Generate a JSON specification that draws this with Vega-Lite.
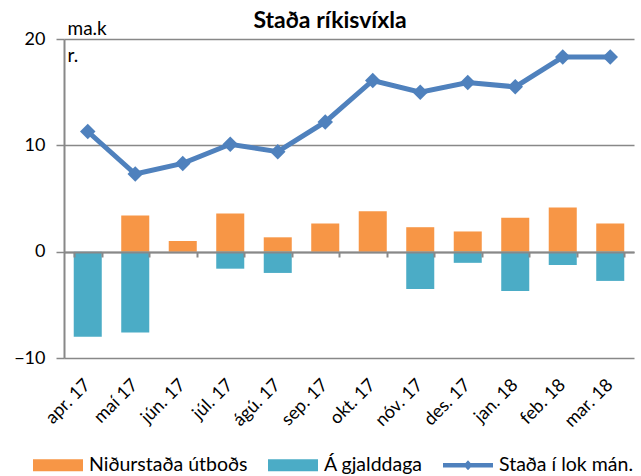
{
  "$schema": "https://vega.github.io/schema/vega-lite/v6.json",
  "width": 570,
  "height": 319,
  "autosize": {"type": "none"},
  "padding": {"left": 64, "top": 39, "right": 7, "bottom": 118},
  "background": "white",
  "config": {"font": "Lato", "view": {"stroke": null}},
  "title": {"text": "Staða ríkisvíxla", "fontSize": 23, "fontWeight": "bold", "font": "Lato", "color": "black", "anchor": "middle", "dx": -19, "dy": 24, "offset": 10},
  "data": {"values": [
    {"month": "apr. 17", "series": "Niðurstaða útboðs", "value": 0},
    {"month": "maí 17", "series": "Niðurstaða útboðs", "value": 3.4},
    {"month": "jún. 17", "series": "Niðurstaða útboðs", "value": 1.0},
    {"month": "júl. 17", "series": "Niðurstaða útboðs", "value": 3.6},
    {"month": "ágú. 17", "series": "Niðurstaða útboðs", "value": 1.35},
    {"month": "sep. 17", "series": "Niðurstaða útboðs", "value": 2.65},
    {"month": "okt. 17", "series": "Niðurstaða útboðs", "value": 3.8},
    {"month": "nóv. 17", "series": "Niðurstaða útboðs", "value": 2.3},
    {"month": "des. 17", "series": "Niðurstaða útboðs", "value": 1.9},
    {"month": "jan. 18", "series": "Niðurstaða útboðs", "value": 3.2},
    {"month": "feb. 18", "series": "Niðurstaða útboðs", "value": 4.15},
    {"month": "mar. 18", "series": "Niðurstaða útboðs", "value": 2.65},
    {"month": "apr. 17", "series": "Á gjalddaga", "value": -8.0},
    {"month": "maí 17", "series": "Á gjalddaga", "value": -7.6},
    {"month": "jún. 17", "series": "Á gjalddaga", "value": 0},
    {"month": "júl. 17", "series": "Á gjalddaga", "value": -1.6},
    {"month": "ágú. 17", "series": "Á gjalddaga", "value": -2.0},
    {"month": "sep. 17", "series": "Á gjalddaga", "value": 0},
    {"month": "okt. 17", "series": "Á gjalddaga", "value": 0},
    {"month": "nóv. 17", "series": "Á gjalddaga", "value": -3.5},
    {"month": "des. 17", "series": "Á gjalddaga", "value": -1.05},
    {"month": "jan. 18", "series": "Á gjalddaga", "value": -3.7},
    {"month": "feb. 18", "series": "Á gjalddaga", "value": -1.25},
    {"month": "mar. 18", "series": "Á gjalddaga", "value": -2.75},
    {"month": "apr. 17", "series": "Staða í lok mán.", "value": 11.3},
    {"month": "maí 17", "series": "Staða í lok mán.", "value": 7.3},
    {"month": "jún. 17", "series": "Staða í lok mán.", "value": 8.3},
    {"month": "júl. 17", "series": "Staða í lok mán.", "value": 10.1},
    {"month": "ágú. 17", "series": "Staða í lok mán.", "value": 9.4},
    {"month": "sep. 17", "series": "Staða í lok mán.", "value": 12.2},
    {"month": "okt. 17", "series": "Staða í lok mán.", "value": 16.1},
    {"month": "nóv. 17", "series": "Staða í lok mán.", "value": 15.0},
    {"month": "des. 17", "series": "Staða í lok mán.", "value": 15.9},
    {"month": "jan. 18", "series": "Staða í lok mán.", "value": 15.5},
    {"month": "feb. 18", "series": "Staða í lok mán.", "value": 18.3},
    {"month": "mar. 18", "series": "Staða í lok mán.", "value": 18.3}
  ]},
  "encoding": {
    "y": {
      "field": "value", "type": "quantitative",
      "scale": {"domain": [-10, 20], "nice": false, "zero": false},
      "axis": {
        "values": [-10, 0, 10, 20], "grid": true, "gridColor": "#888888", "gridWidth": 1.5,
        "domainColor": "#888888", "domainWidth": 2, "tickColor": "#888888", "tickSize": 8, "tickWidth": 1.5,
        "labelFontSize": 18, "labelColor": "black", "labelPadding": 11, "labelFont": "Lato",
        "title": ["ma.k", "r."], "titleAngle": 0, "titleAlign": "left", "titleBaseline": "top",
        "titleX": 3, "titleY": -20, "titleFontSize": 19, "titleFontWeight": "normal", "titleColor": "black", "titleLineHeight": 27, "titleFont": "Lato"
      }
    },
    "color": {
      "field": "series", "type": "nominal",
      "scale": {"domain": ["Niðurstaða útboðs", "Á gjalddaga", "Staða í lok mán."], "range": ["#F79646", "#4BACC6", "#4F81BD"]},
      "legend": {
        "title": null, "orient": "none", "legendX": -31, "legendY": 401, "direction": "horizontal",
        "labelFontSize": 19.5, "labelColor": "black", "labelFont": "Lato", "symbolSize": 2500, "columnPadding": 20, "labelOffset": 6, "symbolOpacity": 1,
        "encode": {"symbols": {"update": {
          "shape": {"signal": "datum.value === 'Staða í lok mán.' ? 'M-1,-0.09H1V0.09H-1Z M0,-0.2L0.18,0L0,0.2L-0.18,0Z' : 'M-1,-0.24H1V0.24H-1Z'"},
          "fill": {"signal": "scale('color', datum.value)"},
          "stroke": {"value": "transparent"},
          "strokeWidth": {"value": 0},
          "opacity": {"value": 1}
        }}}
      }
    }
  },
  "layer": [
    {
      "transform": [{"filter": "datum.series !== 'Staða í lok mán.'"}],
      "mark": {"type": "bar"},
      "encoding": {
        "x": {"field": "month", "type": "ordinal", "sort": null,
          "scale": {"paddingInner": 0.41, "paddingOuter": 0.205},
          "axis": {"orient": "bottom", "title": null, "labelAngle": -45, "labelFontSize": 18, "labelColor": "black", "labelFont": "Lato",
            "ticks": false, "domain": false, "grid": false, "labelPadding": 24, "labelOffset": 0, "labelAlign": "right", "labelBaseline": "middle"}},
        "y": {"field": "value", "type": "quantitative", "stack": null}
      }
    },
    {
      "transform": [{"filter": "datum.series === 'Staða í lok mán.'"}],
      "mark": {"type": "line", "strokeWidth": 5, "point": {"shape": "diamond", "size": 240, "filled": true}},
      "encoding": {
        "x": {"field": "month", "type": "ordinal", "sort": null,
          "axis": {"orient": "bottom", "offset": -106, "labels": false, "title": null, "ticks": true, "tickBand": "extent",
            "tickSize": 5, "tickColor": "#888888", "tickWidth": 2, "domainColor": "#888888", "domainWidth": 2, "grid": false, "zindex": 1}}
      }
    }
  ],
  "resolve": {"axis": {"x": "independent"}}
}
